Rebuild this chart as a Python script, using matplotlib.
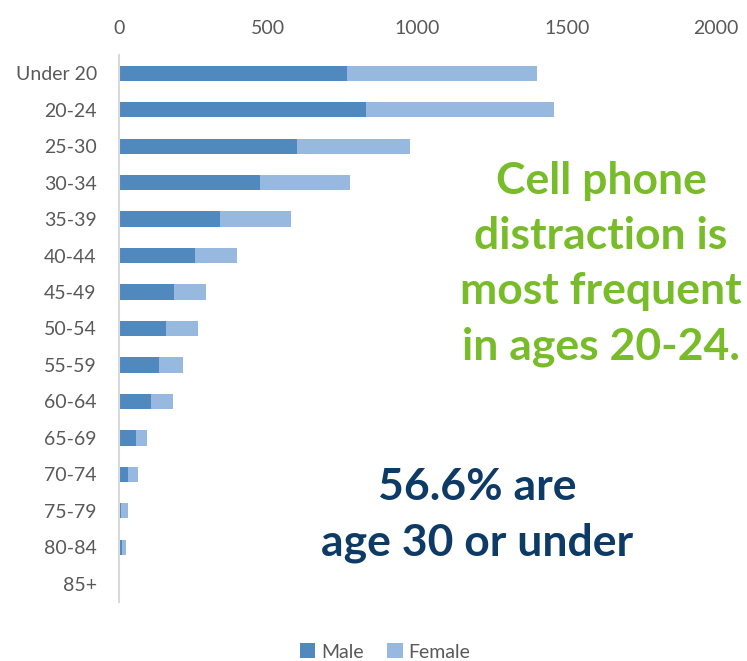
import matplotlib
matplotlib.use("Agg")
import matplotlib.pyplot as plt
import numpy as np

categories = ["Under 20", "20-24", "25-30", "30-34", "35-39", "40-44", "45-49",
              "50-54", "55-59", "60-64", "65-69", "70-74", "75-79", "80-84", "85+"]
male = [764, 827, 596, 472, 338, 255, 185, 157, 133, 107, 57, 31, 8, 10, 2]
female = [635, 630, 380, 303, 239, 141, 106, 109, 80, 73, 37, 33, 21, 12, 2]
xticks = [0, 500, 1000, 1500, 2000]

plt.rcParams['font.family'] = ['Lato', 'DejaVu Sans']

fig = plt.figure(figsize=(7.47, 6.61), dpi=100)
ax = fig.add_axes([0.1593, 0.0893, 0.7992, 0.8275])

y = np.arange(len(categories))
c_male = "#4F89BD"
c_female = "#97B9E0"
ax.barh(y, male, height=0.42, color=c_male, label="Male")
ax.barh(y, female, left=male, height=0.42, color=c_female, label="Female")

ax.set_ylim(len(categories) - 0.5, -0.5)
ax.set_xlim(0, 2000)
ax.set_yticks(y)
ax.set_yticklabels(categories)
ax.set_xticks(xticks)
ax.set_xticklabels([str(t) for t in xticks])
ax.xaxis.tick_top()
ax.tick_params(axis='both', length=0, labelsize=14, colors="#595959")
ax.tick_params(axis='x', pad=13)
ax.tick_params(axis='y', pad=16)
for s in ["top", "right", "bottom"]:
    ax.spines[s].set_visible(False)
ax.spines["left"].set_color("#D9D9D9")
ax.spines["left"].set_linewidth(1.5)

fig.text(601 / 747, 1 - 264 / 661, "Cell phone\ndistraction is\nmost frequent\nin ages 20-24.",
         ha="center", va="center", color="#78BC2A", fontsize=32, fontweight="bold",
         linespacing=1.45)
fig.text(477 / 747, 1 - 515 / 661, "56.6% are\nage 30 or under",
         ha="center", va="center", color="#0E3A66", fontsize=32, fontweight="bold",
         linespacing=1.45)

leg = fig.legend(loc="center", bbox_to_anchor=(385 / 747, 1 - 652 / 661), ncol=2,
                 frameon=False, fontsize=14, handlelength=0.8, handleheight=0.8,
                 columnspacing=1.2, handletextpad=0.3)
for t in leg.get_texts():
    t.set_color("#595959")

fig.savefig("out.png", dpi=100)
